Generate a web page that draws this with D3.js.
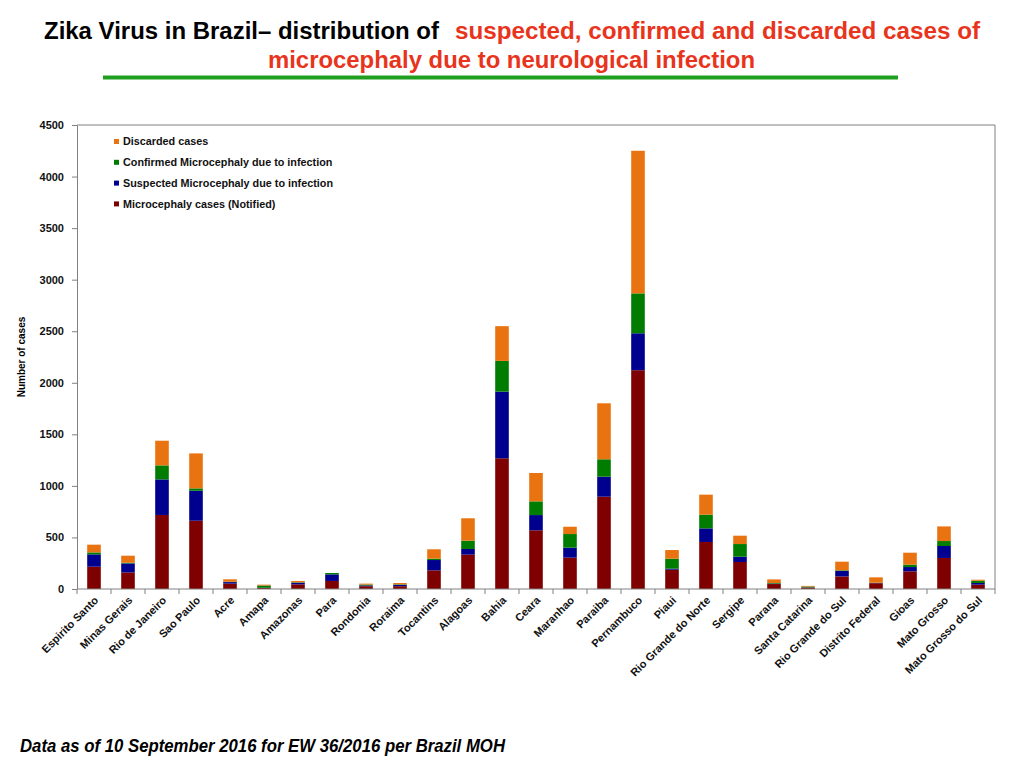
<!DOCTYPE html>
<html>
<head>
<meta charset="utf-8">
<script src="https://cdn.jsdelivr.net/npm/d3@7"></script>
<style>
  body { margin: 0; background: #fff; }
  svg { font-family: "Liberation Sans", Arial, sans-serif; }
  .axis path, .axis line { stroke: #808080; }
  .axis text { font-size: 11px; font-weight: bold; fill: #111; }
</style>
</head>
<body>
<div id="chart"></div>
<script>
const states = ["Espirito Santo", "Minas Gerais", "Rio de Janeiro", "Sao Paulo", "Acre", "Amapa",
  "Amazonas", "Para", "Rondonia", "Roraima", "Tocantins", "Alagoas", "Bahia", "Ceara", "Maranhao",
  "Paraiba", "Pernambuco", "Piaui", "Rio Grande do Norte", "Sergipe", "Parana", "Santa Catarina",
  "Rio Grande do Sul", "Distrito Federal", "Gioas", "Mato Grosso", "Mato Grosso do Sul"];
const notified  = [216, 161, 718, 662, 52, 10, 45, 78, 27, 27, 181, 333, 1268, 569, 304, 895, 2122, 187, 456, 262, 48, 14, 122, 56, 171, 301, 42];
const suspected = [120, 87, 345, 291, 15, 2, 16, 64, 8, 13, 100, 55, 646, 148, 97, 194, 358, 10, 132, 51, 4, 2, 53, 2, 42, 116, 16];
const confirmed = [19, 7, 136, 23, 3, 22, 4, 13, 8, 5, 13, 81, 298, 133, 132, 169, 387, 97, 133, 123, 6, 8, 6, 3, 23, 48, 22];
const discarded = [75, 68, 239, 339, 24, 8, 13, 0, 9, 13, 91, 217, 337, 275, 71, 543, 1383, 84, 194, 81, 35, 6, 84, 52, 116, 142, 10];
const seriesNames = ["Microcephaly cases (Notified)", "Suspected Microcephaly due to infection",
  "Confirmed Microcephaly due to infection", "Discarded cases"];
const seriesColors = ["#7f0000", "#00008f", "#007d00", "#ea7311"];
const yTicks = [0, 500, 1000, 1500, 2000, 2500, 3000, 3500, 4000, 4500];

const WIDTH = 1024, HEIGHT = 768;
const M = { top: 125, right: 29, bottom: 179, left: 77 };
const innerW = WIDTH - M.left - M.right;
const innerH = HEIGHT - M.top - M.bottom;

const svg = d3.select("#chart").append("svg")
  .attr("width", WIDTH).attr("height", HEIGHT);

// title (narrow bold, squeezed to the reference widths)
const t1 = svg.append("text").attr("y", 39).attr("font-size", 23).attr("font-weight", "bold");
t1.append("tspan").attr("x", 44).attr("fill", "#000")
  .attr("textLength", 395).attr("lengthAdjust", "spacingAndGlyphs")
  .text("Zika Virus in Brazil\u2013 distribution of");
t1.append("tspan").attr("x", 455).attr("fill", "#e8341c")
  .attr("textLength", 525).attr("lengthAdjust", "spacingAndGlyphs")
  .text("suspected, confirmed  and discarded cases of");
svg.append("text").attr("x", 268).attr("y", 68).attr("font-size", 23).attr("font-weight", "bold")
  .attr("fill", "#e8341c")
  .attr("textLength", 487).attr("lengthAdjust", "spacingAndGlyphs")
  .text("microcephaly due to neurological infection");
svg.append("line").attr("x1", 103).attr("x2", 898).attr("y1", 77.5).attr("y2", 77.5)
  .attr("stroke", "#1f9e1f").attr("stroke-width", 4);

const g = svg.append("g").attr("transform", `translate(${M.left},${M.top})`);

const x = d3.scaleBand().domain(states).range([0, innerW]).paddingInner(0.6).paddingOuter(0.3);
const y = d3.scaleLinear().domain([0, 4500]).range([innerH, 0]);

const rows = states.map((s, i) => ({
  state: s, s0: notified[i], s1: suspected[i], s2: confirmed[i], s3: discarded[i]
}));
const stack = d3.stack().keys(["s0", "s1", "s2", "s3"])(rows);

// frame (top + right)
g.append("path").attr("d", `M0,0H${innerW}V${innerH}`)
  .attr("fill", "none").attr("stroke", "#808080");

// bars
g.selectAll(".layer").data(stack).join("g")
  .attr("class", "layer")
  .attr("fill", (d, i) => seriesColors[i])
  .selectAll("rect").data(d => d).join("rect")
  .attr("x", d => x(d.data.state))
  .attr("width", x.bandwidth())
  .attr("y", d => y(d[1]))
  .attr("height", d => y(d[0]) - y(d[1]));

// y axis
g.append("g").attr("class", "axis")
  .call(d3.axisLeft(y).tickValues(yTicks).tickFormat(d3.format("d"))
    .tickSize(5).tickSizeOuter(0).tickPadding(8));

// x axis: ticks at band edges
const xAxis = g.append("g").attr("class", "axis").attr("transform", `translate(0,${innerH})`);
xAxis.append("line").attr("x1", 0).attr("x2", innerW).attr("stroke", "#808080");
const step = x.step();
xAxis.selectAll(".tk").data(d3.range(states.length + 1)).join("line")
  .attr("class", "tk")
  .attr("x1", i => i * step).attr("x2", i => i * step)
  .attr("y1", 0).attr("y2", 5).attr("stroke", "#808080");
xAxis.selectAll(".lbl").data(states).join("text")
  .attr("class", "lbl")
  .attr("text-anchor", "end")
  .attr("transform", d => `translate(${x(d) + x.bandwidth() / 2 + 5},${12}) rotate(-45)`)
  .text(d => d);

// y label
svg.append("text")
  .attr("transform", `translate(25, 357) rotate(-90)`)
  .attr("text-anchor", "middle")
  .attr("font-size", 10).attr("font-weight", "bold")
  .text("Number of cases");

// legend (top item is the top of the stack)
const legend = svg.append("g").attr("transform", "translate(114,141.5)");
const order = [3, 2, 1, 0];
order.forEach((k, j) => {
  const row = legend.append("g").attr("transform", `translate(0,${j * 20.8})`);
  row.append("rect").attr("x", 0).attr("y", -2.5).attr("width", 5).attr("height", 5)
    .attr("fill", seriesColors[k]);
  row.append("text").attr("x", 9).attr("y", 0).attr("dy", "0.35em")
    .attr("font-size", 10.8).attr("font-weight", "bold").attr("fill", "#111")
    .text(seriesNames[k]);
});

// footer
svg.append("text").attr("x", 20).attr("y", 752)
  .attr("font-size", 19).attr("font-weight", "bold").attr("font-style", "italic")
  .attr("textLength", 485).attr("lengthAdjust", "spacingAndGlyphs")
  .text("Data as of 10 September 2016 for EW 36/2016 per Brazil MOH");
</script>
</body>
</html>
